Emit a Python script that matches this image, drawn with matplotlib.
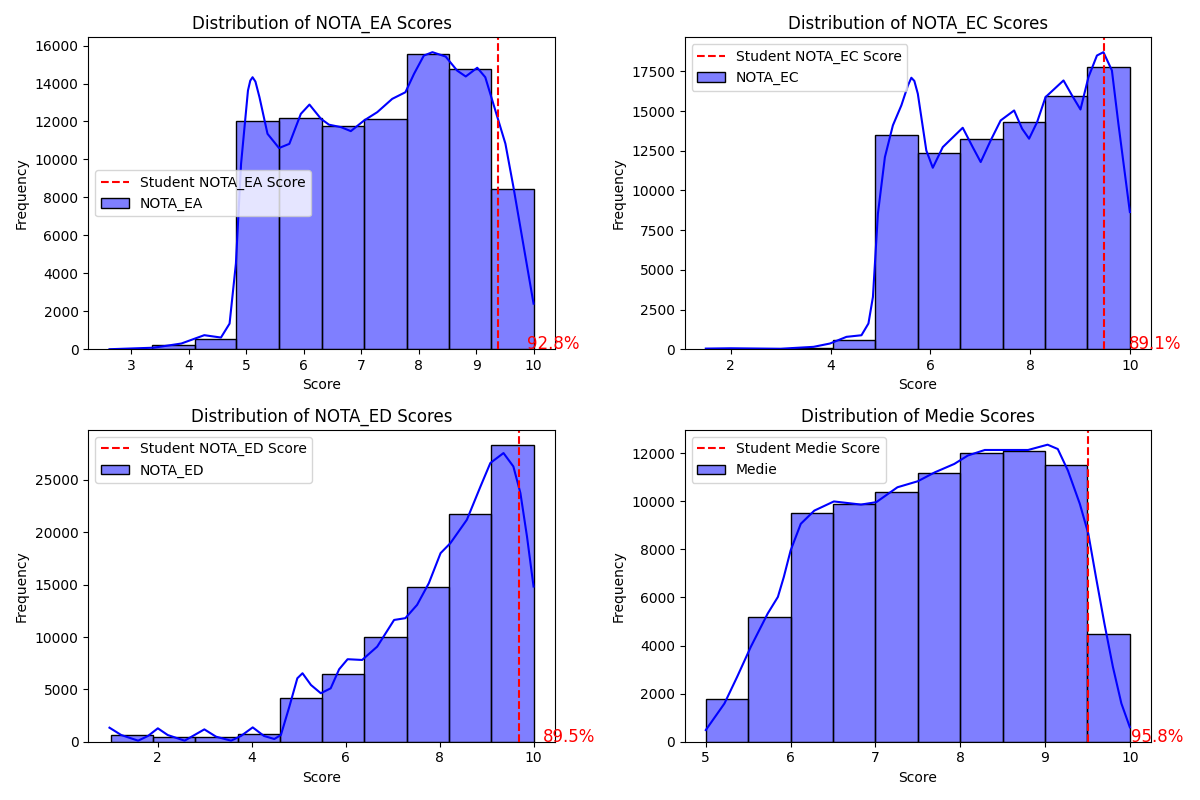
import numpy as np
import matplotlib
matplotlib.use("Agg")
import matplotlib.pyplot as plt

### Data ###

subjects = ["NOTA_EA", "NOTA_EC", "NOTA_ED", "Medie"]

# student scores per subject and their percentile labels
student_scores = [9.38, 9.49, 9.70, 9.51]
percentile_labels = ["92.8%", "89.1%", "89.5%", "95.8%"]

# histogram bin edges (10 bins between min and max score)
ea_edges = [2.62, 3.36, 4.10, 4.83, 5.57, 6.31, 7.05, 7.79, 8.52, 9.26, 10.0]
ec_edges = [1.5, 2.35, 3.2, 4.05, 4.9, 5.75, 6.6, 7.45, 8.3, 9.15, 10.0]
ed_edges = [1.0, 1.9, 2.8, 3.7, 4.6, 5.5, 6.4, 7.3, 8.2, 9.1, 10.0]
medie_edges = [5.0, 5.5, 6.0, 6.5, 7.0, 7.5, 8.0, 8.5, 9.0, 9.5, 10.0]

# bin counts
ea_counts = [30, 210, 520, 12050, 12200, 11780, 12150, 15580, 14780, 8460]
ec_counts = [40, 25, 60, 610, 13500, 12360, 13260, 14340, 15960, 17800]
ed_counts = [610, 480, 480, 740, 4170, 6460, 10000, 14780, 21770, 28370]
medie_counts = [1760, 5190, 9500, 9890, 10390, 11180, 12010, 12090, 11510, 4460]

# kde curves (x, frequency)
ea_kde_x = [2.62, 3.39, 3.87, 4.27, 4.56, 4.71, 4.82, 4.91, 5.03, 5.07, 5.11, 5.16, 5.23,
            5.37, 5.57, 5.75, 5.95, 6.10, 6.30, 6.44, 6.65, 6.82, 7.05, 7.28, 7.54, 7.77,
            7.92, 8.09, 8.24, 8.47, 8.67, 8.82, 9.02, 9.16, 9.37, 9.51, 9.65, 9.83, 10.0]
ea_kde_y = [0, 80, 300, 740, 615, 1350, 4510, 9770, 13630, 14150, 14330, 14100, 13280,
            11350, 10600, 10820, 12400, 12890, 12140, 11830, 11700, 11490, 12050, 12490,
            13190, 13540, 14510, 15470, 15650, 15420, 14680, 14370, 14830, 14330, 12230,
            10830, 8540, 5380, 2400]

ec_kde_x = [1.50, 2.0, 3.0, 3.66, 3.99, 4.32, 4.62, 4.76, 4.85, 4.95, 5.09, 5.25, 5.42,
            5.55, 5.62, 5.68, 5.75, 5.92, 6.05, 6.25, 6.65, 6.85, 7.01, 7.21, 7.41, 7.68,
            7.84, 7.98, 8.14, 8.31, 8.67, 8.84, 9.01, 9.17, 9.34, 9.47, 9.64, 9.77, 10.0]
ec_kde_y = [40, 60, 30, 150, 360, 780, 880, 1620, 3290, 8540, 12100, 14100, 15360,
            16600, 17100, 16900, 16090, 12520, 11430, 12730, 13950, 12730, 11790, 13150,
            14410, 15040, 13890, 13260, 14300, 15880, 16930, 15990, 15100, 17140, 18500,
            18710, 17560, 14200, 8640]

ed_kde_x = [0.97, 1.22, 1.58, 1.79, 2.0, 2.21, 2.57, 2.78, 2.99, 3.24, 3.56, 3.77, 4.02,
            4.26, 4.48, 4.62, 4.80, 4.97, 5.08, 5.26, 5.47, 5.68, 5.86, 6.04, 6.35, 6.67,
            7.03, 7.27, 7.52, 7.77, 8.02, 8.23, 8.58, 8.87, 9.08, 9.36, 9.57, 9.72, 9.86,
            10.0]
ed_kde_y = [1340, 640, 100, 550, 1280, 640, 100, 640, 1180, 480, 100, 550, 1370,
            550, 260, 640, 3350, 6060, 6540, 5420, 4630, 5100, 6920, 7880, 7810, 9080,
            11630, 11800, 13070, 15140, 18010, 18970, 21200, 24380, 26620, 27570, 26290,
            23750, 19600, 14820]

medie_kde_x = [5.0, 5.22, 5.37, 5.53, 5.73, 5.85, 5.92, 6.0, 6.12, 6.28, 6.51, 6.83, 7.01,
               7.26, 7.50, 7.70, 7.93, 8.09, 8.29, 8.48, 8.80, 9.03, 9.15, 9.27, 9.41, 9.51,
               9.60, 9.70, 9.80, 9.90, 10.0]
medie_kde_y = [485, 1590, 2700, 3940, 5330, 6020, 6850, 7950, 9060, 9610, 9990, 9860, 9960,
               10580, 10830, 11200, 11550, 11900, 12130, 12130, 12130, 12350, 12170, 11270,
               9890, 8650, 6850, 4910, 3110, 1590, 600]

edges_list = [ea_edges, ec_edges, ed_edges, medie_edges]
counts_list = [ea_counts, ec_counts, ed_counts, medie_counts]
kde_list = [(ea_kde_x, ea_kde_y), (ec_kde_x, ec_kde_y), (ed_kde_x, ed_kde_y), (medie_kde_x, medie_kde_y)]
legend_locs = ["center left", "upper left", "upper left", "upper left"]

### Plotting ###

fig, axes = plt.subplots(2, 2, figsize=(12, 8), dpi=100)

for ax, subject, edges, counts, kde, score, pct, loc in zip(
        axes.flat, subjects, edges_list, counts_list, kde_list,
        student_scores, percentile_labels, legend_locs):
    edges = np.array(edges)
    # histogram bars: translucent blue fill, solid black edge
    bars = ax.bar(edges[:-1], counts, width=np.diff(edges), align="edge",
                  facecolor=(0, 0, 1, 0.5), edgecolor="black", linewidth=1, label=subject)
    ax.plot(kde[0], kde[1], color="blue", linewidth=1.5)
    line = ax.axvline(score, color="red", linestyle="--", linewidth=1.5,
                      label=f"Student {subject} Score")
    ax.text(score + 0.5, 0, pct, color="red", fontsize=12)

    ax.set_title(f"Distribution of {subject} Scores", fontsize=12)
    ax.set_xlabel("Score")
    ax.set_ylabel("Frequency")
    ax.legend(handles=[line, bars], loc=loc)

plt.tight_layout()
plt.savefig("out.png")
